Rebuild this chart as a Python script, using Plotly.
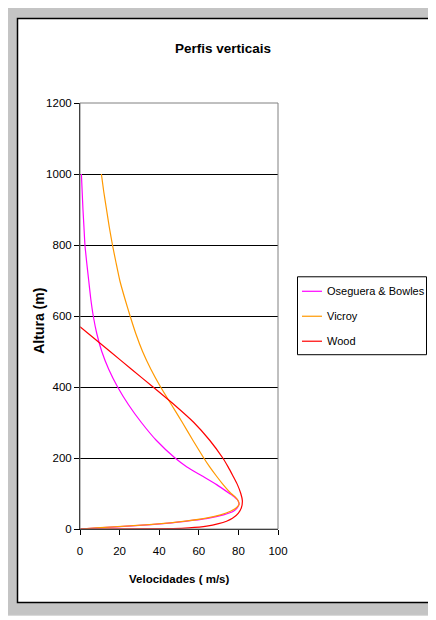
import plotly.graph_objects as go

# ---- data ----
series_names = ["Oseguera & Bowles", "Vicroy", "Wood"]
series_colors = ["#FF00FF", "#FF9900", "#FF0000"]

alt_ob = [0, 3, 6, 10, 15, 20, 30, 40, 50, 60, 70, 80, 90, 100, 125, 150, 175, 200,
          250, 300, 350, 400, 450, 500, 550, 600, 650, 700, 750, 800, 850, 900, 950, 1000]
vel_ob = [0, 9, 18.4, 30, 42, 50.5, 64.5, 72.5, 77.5, 79.5, 80.3, 79.8, 78, 75.5, 69, 61.5, 54, 48,
          38.5, 31, 24.5, 19, 14.5, 11, 8.5, 6.7, 5.4, 4.4, 3.4, 2.5, 2, 1.5, 1.1, 0.7]

alt_vi = [0, 3, 6, 10, 15, 20, 30, 40, 50, 60, 70, 80, 90, 100, 125, 150, 175, 200,
          250, 300, 350, 400, 450, 500, 550, 600, 650, 700, 750, 800, 850, 900, 950, 1000]
vel_vi = [0, 8, 17, 29, 41, 50, 63, 71, 76, 79, 80.4, 79.8, 78.5, 76.3, 72.3, 68.8, 65.5, 62.5,
          57, 51.7, 46.2, 40.7, 35.8, 31.6, 28.2, 25.3, 22.6, 20.1, 18.2, 16.4, 14.8, 13.4, 12, 10.8]

alt_wo = [0, 1, 3, 8, 15, 22, 30, 45, 60, 80, 100, 125, 150, 175, 200,
          250, 300, 350, 400, 450, 500, 550, 570]
vel_wo = [0, 47, 55, 64, 70, 74, 77, 80, 81.5, 82, 81.2, 79.5, 77.2, 74.8, 72.1,
          65.5, 57.5, 47.6, 36.9, 26, 15.2, 4.3, 0]

x_ticks = [0, 20, 40, 60, 80, 100]
y_ticks = [0, 200, 400, 600, 800, 1000, 1200]

title_text = "Perfis verticais"
x_title = "Velocidades ( m/s)"
y_title = "Altura (m)"

FONT = "Liberation Sans, Arial, sans-serif"

# the page has an 8px body margin: figure is drawn from page pixel (8, 8)
OFF = 8
W, H = 436 - OFF, 620 - OFF
L = 80 - OFF
R = W - (278 - OFF)
T = 103 - OFF
B = H - (529.5 - OFF)
PW = W - L - R
PH = H - T - B


def px(xp):
    """page x pixel -> paper x"""
    return (xp - OFF - L) / PW


def py(yp):
    """page y pixel -> paper y"""
    return (H - B - (yp - OFF)) / PH


fig = go.Figure()
for name, col, xs, ys in zip(series_names, series_colors,
                             [vel_ob, vel_vi, vel_wo], [alt_ob, alt_vi, alt_wo]):
    fig.add_trace(go.Scatter(x=xs, y=ys, mode="lines", name=name,
                             line=dict(color=col, width=1.2, shape="spline", smoothing=0.5),
                             showlegend=False, hoverinfo="skip"))

shapes = [
    # outer gray frame
    dict(type="rect", xref="paper", yref="paper", x0=px(7), x1=px(437), y0=py(7), y1=py(616),
         fillcolor="#C4C4C4", line=dict(color="#D8D8D8", width=1), layer="below"),
    # inner white chart area with black border
    dict(type="rect", xref="paper", yref="paper", x0=px(17.5), x1=px(430), y0=py(18.5), y1=py(603),
         fillcolor="white", line=dict(color="black", width=1.5), layer="below"),
    # plot area border (gray)
    dict(type="rect", xref="paper", yref="paper", x0=0, x1=1, y0=0, y1=1,
         fillcolor="rgba(0,0,0,0)", line=dict(color="#808080", width=1), layer="above"),
    # legend box
    dict(type="rect", xref="paper", yref="paper", x0=px(297.5), x1=px(426.5), y0=py(277), y1=py(355),
         fillcolor="white", line=dict(color="black", width=1), layer="above"),
]

annotations = []
leg_y = [291.5, 316.5, 341.5]
for name, col, yy in zip(series_names, series_colors, leg_y):
    shapes.append(dict(type="line", xref="paper", yref="paper", x0=px(302), x1=px(322),
                       y0=py(yy), y1=py(yy), line=dict(color=col, width=1.2), layer="above"))
    annotations.append(dict(xref="paper", yref="paper", x=px(324.5), y=py(yy), text=name,
                            showarrow=False, xanchor="left", yanchor="middle",
                            font=dict(family=FONT, size=11, color="black")))

annotations.append(dict(xref="paper", yref="paper", x=px(223), y=py(48), text="<b>" + title_text + "</b>",
                        showarrow=False, xanchor="center", yanchor="middle",
                        font=dict(family=FONT, size=13.5, color="black")))
annotations.append(dict(xref="paper", yref="paper", x=px(179), y=py(580), text="<b>" + x_title + "</b>",
                        showarrow=False, xanchor="center", yanchor="middle",
                        font=dict(family=FONT, size=11.5, color="black")))
annotations.append(dict(xref="paper", yref="paper", x=px(39), y=py(321), text="<b>" + y_title + "</b>",
                        showarrow=False, xanchor="center", yanchor="middle", textangle=-90,
                        font=dict(family=FONT, size=14, color="black")))

fig.update_layout(
    width=W, height=H,
    margin=dict(l=L, r=R, t=T, b=B, pad=0),
    paper_bgcolor="white", plot_bgcolor="white",
    shapes=shapes, annotations=annotations,
    showlegend=False,
    font=dict(family=FONT, size=11, color="black"),
    xaxis=dict(range=[0, 100], tickvals=x_ticks, ticks="outside", ticklen=5, tickcolor="black",
               tickwidth=1, showline=True, linecolor="black", linewidth=1, showgrid=False,
               zeroline=False, ticklabelstandoff=6,
               tickfont=dict(family=FONT, size=11.5, color="black"), fixedrange=True),
    yaxis=dict(range=[0, 1200], tickvals=y_ticks, ticks="outside", ticklen=5, tickcolor="black",
               tickwidth=1, showline=True, linecolor="black", linewidth=1, showgrid=True,
               gridcolor="black", gridwidth=1, zeroline=False,
               tickfont=dict(family=FONT, size=11.5, color="black"), fixedrange=True),
)

fig.write_html("out.html", config={"displayModeBar": False})
